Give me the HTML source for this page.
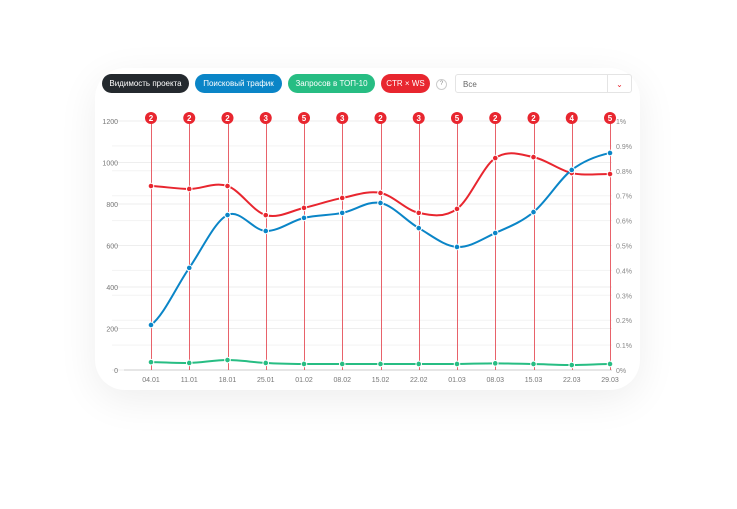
<!DOCTYPE html>
<html><head><meta charset="utf-8"><style>
body{margin:0;width:737px;height:509px;background:#fff;font-family:"Liberation Sans",sans-serif;overflow:hidden;position:relative}
.card{position:absolute;left:95px;top:68px;width:545px;height:322px;background:#fff;border-radius:30px;box-shadow:0 10px 40px rgba(0,0,0,0.07)}
.btn{position:absolute;top:74px;height:19px;border-radius:10px;color:#fff;font-size:8px;line-height:19px;text-align:center}
</style></head><body>
<div class="card"></div>
<div class="btn" style="left:102px;width:87px;background:#24292e">Видимость проекта</div>
<div class="btn" style="left:195px;width:87px;background:#0a85c7">Поисковый трафик</div>
<div class="btn" style="left:288px;width:87px;background:#27bd83">Запросов в ТОП-10</div>
<div class="btn" style="left:381px;width:49px;background:#e8262f">CTR × WS</div>
<div style="position:absolute;left:436px;top:79px;width:9px;height:9px;border:1px solid #ccc;border-radius:50%;font-size:6px;line-height:9px;text-align:center;color:#888">?</div>
<div style="position:absolute;left:455px;top:74px;width:177px;height:19px;border:1px solid #e4e4e4;border-radius:3px;font-size:8px;line-height:19px;color:#666;box-sizing:border-box;padding-left:7px">Все<span style="position:absolute;right:0;top:0;width:23px;height:17px;border-left:1px solid #e4e4e4;color:#e8262f;text-align:center;font-size:8px">⌄</span></div>
<svg id="c" width="737" height="509" style="position:absolute;left:0;top:0"></svg>
<script>
const labels=["04.01","11.01","18.01","25.01","01.02","08.02","15.02","22.02","01.03","08.03","15.03","22.03","29.03"];
const traffic=[217,492,747,670,733,757,805,684,593,660,761,964,1046];
const top10=[38,34,48,34,29,29,29,29,29,32,29,24,29];
const ctr=[0.739,0.727,0.739,0.622,0.651,0.691,0.711,0.631,0.647,0.851,0.855,0.791,0.787];
const markers=[2,2,2,3,5,3,2,3,5,2,2,4,5];
const leftTicks=[0,200,400,600,800,1000,1200];
const rightTicks=[0,0.1,0.2,0.3,0.4,0.5,0.6,0.7,0.8,0.9,1];
const svg=document.getElementById('c');const NS='http://www.w3.org/2000/svg';
const x0=151,x1=610,yB=370,yT=121;
const X=i=>x0+i*(x1-x0)/(labels.length-1);
const YL=v=>yB-v/1200*(yB-yT);
const YR=v=>yB-v/1*(yB-yT);
function mk(t,a,p){const e=document.createElementNS(NS,t);for(const k in a)e.setAttribute(k,a[k]);(p||svg).appendChild(e);return e;}
rightTicks.forEach(v=>{const l=mk('line',{x1:112,x2:612,y1:YR(v),y2:YR(v),stroke:'#f3f3f3'});

const t=mk('text',{x:616,y:YR(v)+3,'font-size':7,fill:'#888'});t.textContent=(Math.round(v*10)/10)+'%';
});
leftTicks.forEach(v=>{const l=mk('line',{x1:112,x2:612,y1:YL(v),y2:YL(v),stroke:'#eeeeee'});

const t=mk('text',{x:118,y:YL(v)+3,'font-size':7,fill:'#777','text-anchor':'end'});t.textContent=v;
});
mk('line',{x1:124,x2:612,y1:yB,y2:yB,stroke:'#ccc'});
labels.forEach((s,i)=>{const t=mk('text',{x:X(i),y:382,'font-size':7,fill:'#777','text-anchor':'middle'});t.textContent=s;

const lx=Math.round(X(i))+0.5;
const l=mk('line',{x1:lx,x2:lx,y1:118,y2:yB,stroke:'#e8626a','stroke-width':1,'shape-rendering':'crispEdges'});
});
function path(ys){let d='M'+X(0)+','+ys[0];for(let i=0;i<ys.length-1;i++){const p0=ys[Math.max(i-1,0)],p1=ys[i],p2=ys[i+1],p3=ys[Math.min(i+2,ys.length-1)];const dx=(X(1)-X(0))/3;
d+=` C${X(i)+dx},${p1+(p2-p0)/6} ${X(i+1)-dx},${p2-(p3-p1)/6} ${X(i+1)},${p2}`;}return d;}
function series(ys,col,name){const p=mk('path',{d:path(ys),fill:'none',stroke:col,'stroke-width':2});

ys.forEach((y,i)=>{const c=mk('circle',{cx:X(i),cy:y,r:2.8,fill:col,stroke:'#fff','stroke-width':1});
});}
series(top10.map(YL),'#27bd83','top10');
series(ctr.map(YR),'#e8262f','ctr');
series(traffic.map(YL),'#0a85c7','traffic');
markers.forEach((m,i)=>{const c=mk('circle',{cx:X(i),cy:118,r:6,fill:'#e8262f'});

const t=mk('text',{x:X(i),y:121,'font-size':8,'font-weight':'bold',fill:'#fff','text-anchor':'middle'});t.textContent=m;
});
</script>
</body></html>
